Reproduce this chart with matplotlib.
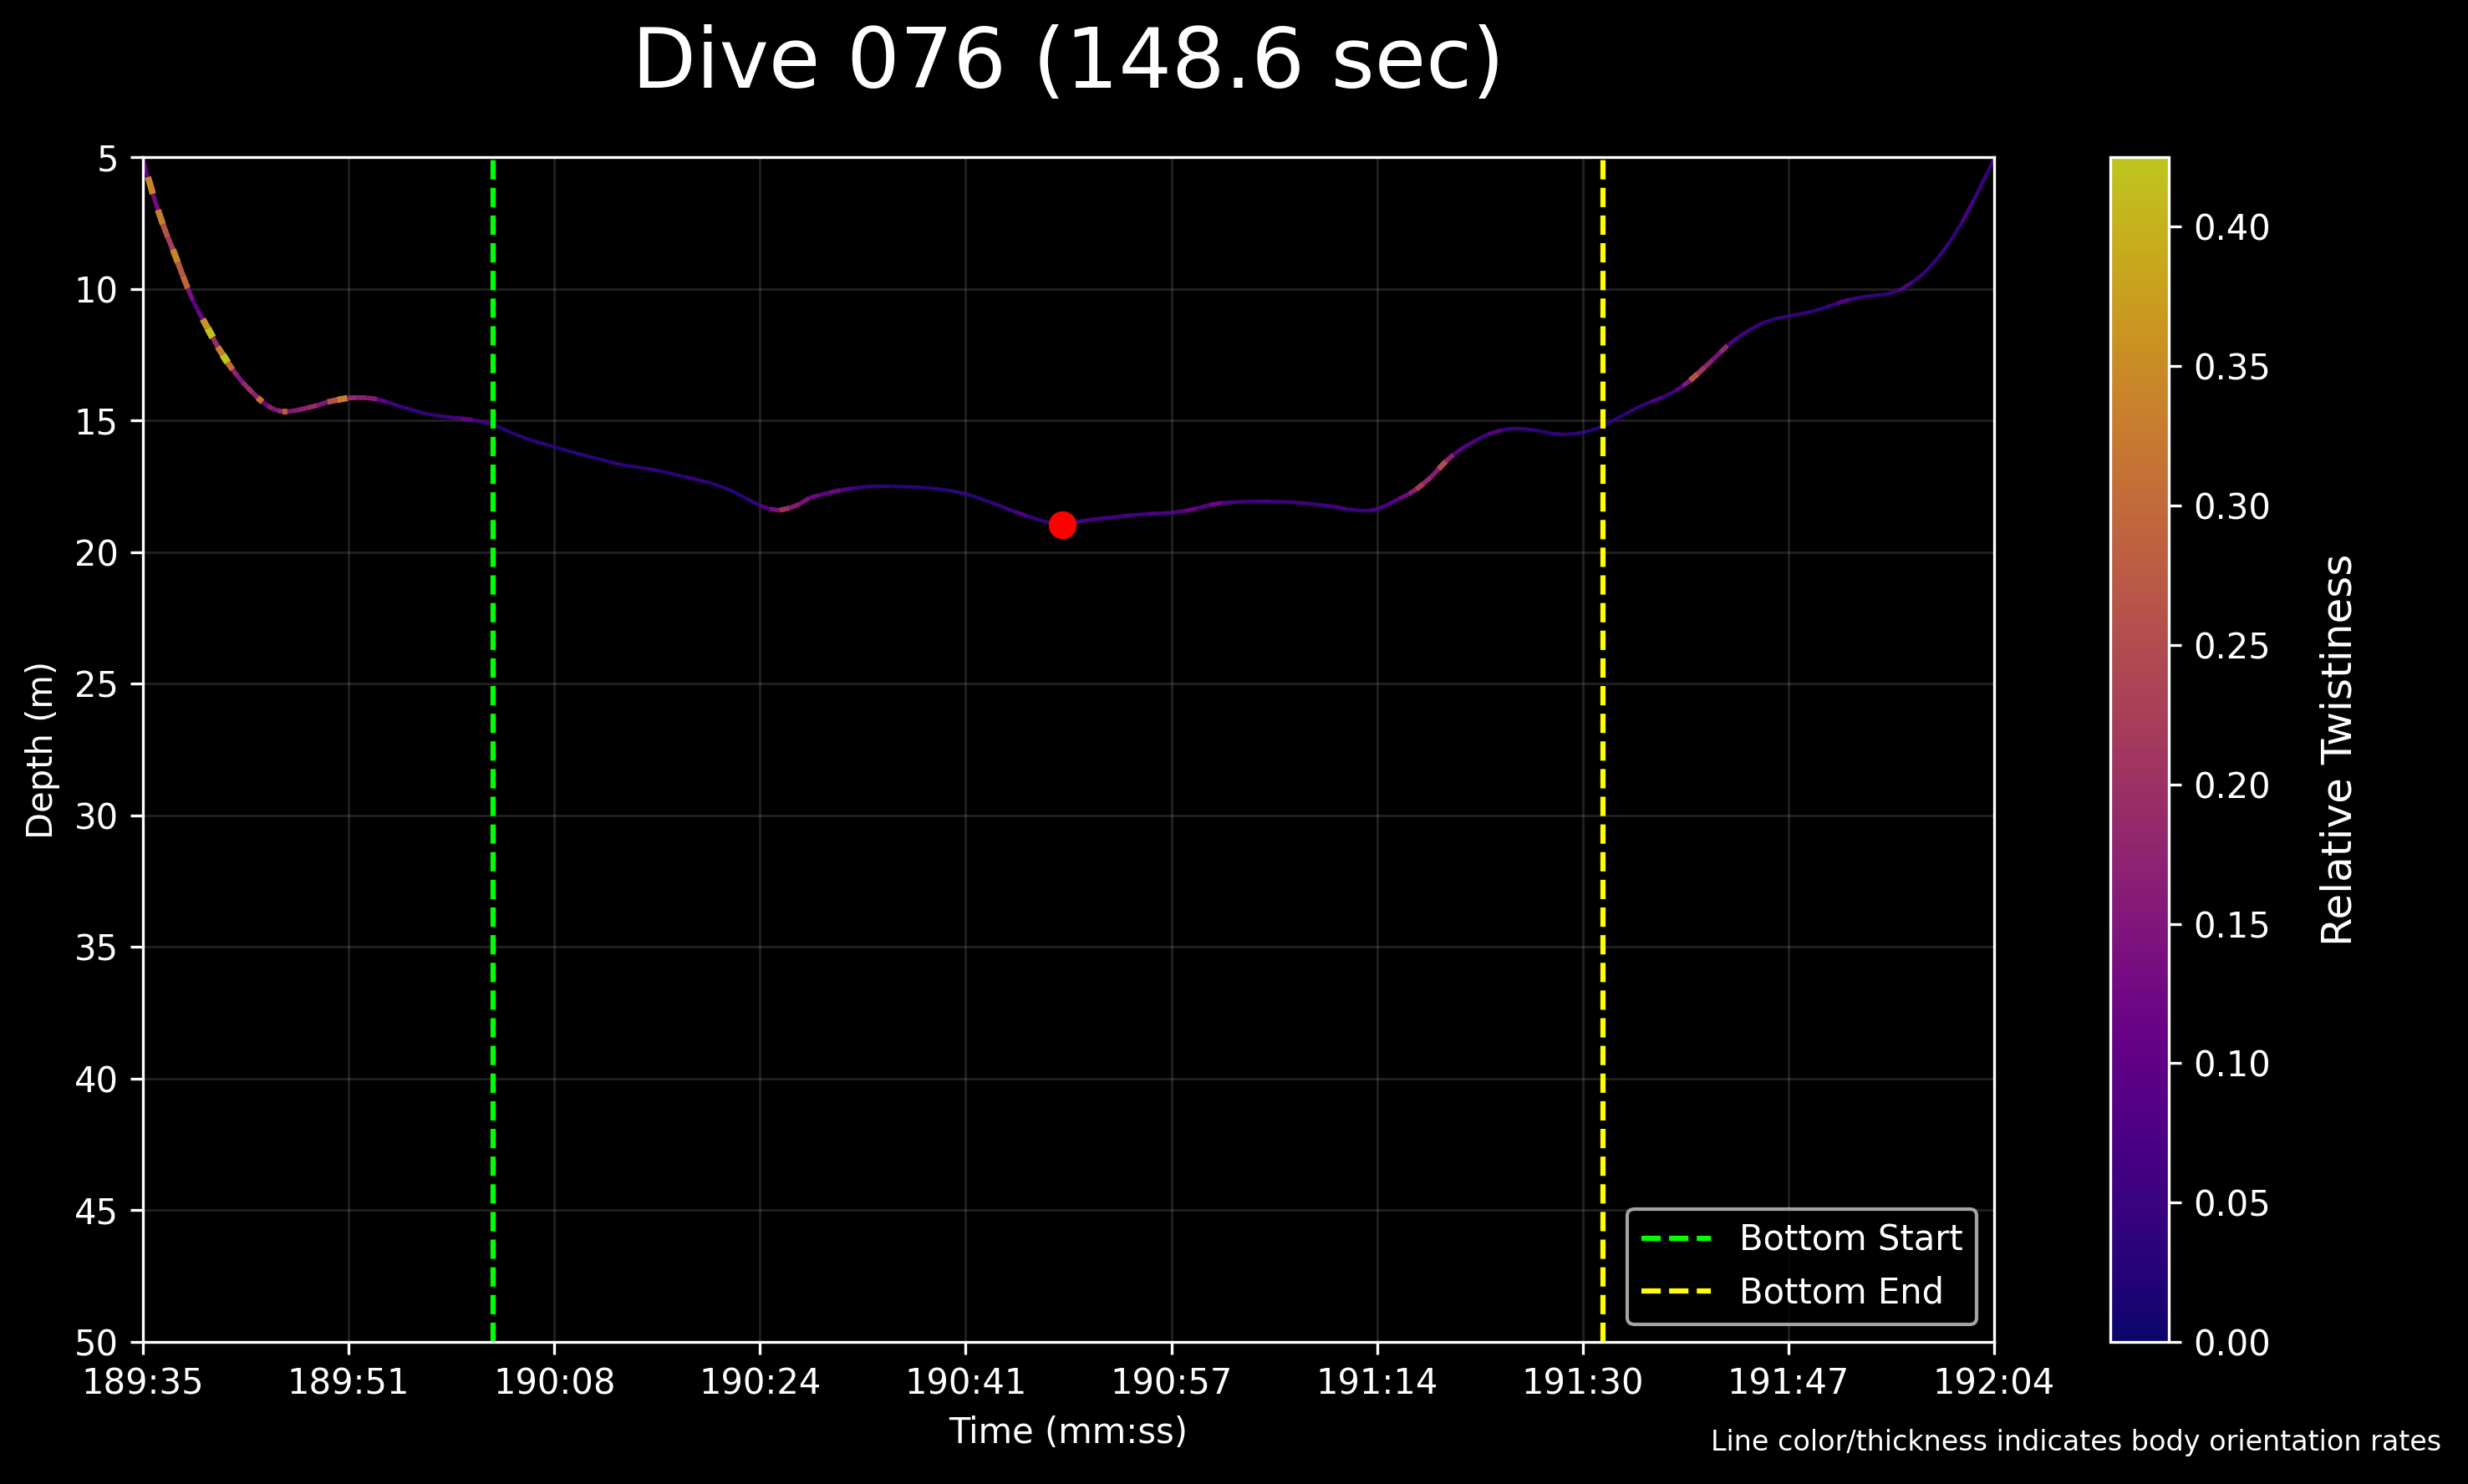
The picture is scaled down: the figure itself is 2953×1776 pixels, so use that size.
import matplotlib
matplotlib.use("Agg")
import matplotlib.pyplot as plt
from matplotlib.collections import LineCollection
from matplotlib.colors import Normalize
import numpy as np

# seconds since start of dive, depth (m), relative twistiness
time_s = [0.0, 0.4, 0.8, 1.2, 1.6, 2.0, 2.4, 2.8, 3.2, 3.6, 4.0, 4.4, 4.8, 5.2, 5.6,
          6.0, 6.4, 6.8, 7.2, 7.6, 8.0, 8.4, 8.8, 9.2, 9.6, 10.0, 10.4, 10.8, 11.2, 11.6,
          12.0, 12.4, 13.2, 14.0, 14.8, 15.6, 16.4, 17.2, 18.0, 18.8, 19.6, 20.4,
          21.5, 22.5, 23.5, 24.5, 25.5, 26.5, 27.5, 28.5, 29.5, 30.5, 31.5, 32.5,
          33.5, 34.5, 35.5, 36.5, 37.5, 38.5, 39.5, 40.5, 41.5, 42.5, 43.5, 44.5,
          45.5, 46.5, 47.5, 48.5, 49.5, 50.3, 51.1, 51.9, 52.7, 53.5, 54.3, 55.1,
          56.0, 57.0, 58.0, 59.0, 60.0, 61.0, 62.0, 63.0, 64.0, 65.0, 66.0, 67.0,
          68.0, 69.0, 70.0, 71.0, 72.0, 73.0, 73.8, 74.6, 75.6, 76.6, 77.6, 78.6,
          79.6, 80.6, 81.6, 82.6, 83.6, 84.6, 85.6, 86.6, 87.6, 88.6, 89.6, 90.6,
          91.6, 92.6, 93.6, 94.6, 95.6, 96.6, 97.6, 98.4, 99.2, 100.0, 100.8, 101.6,
          102.2, 102.8, 103.4, 104.0, 104.6, 105.2, 106.0, 107.0, 108.0, 109.0, 110.0,
          111.0, 112.0, 113.0, 114.0, 115.0, 116.0, 117.2, 118.0, 119.0, 120.0, 121.0,
          122.0, 123.0, 123.6, 124.2, 124.8, 125.4, 126.0, 126.6, 127.2, 128.0, 129.0,
          130.0, 131.0, 132.0, 133.0, 134.0, 135.0, 136.0, 137.0, 138.0, 139.0, 140.0,
          141.0, 142.0, 143.0, 144.0, 145.0, 146.0, 147.0, 148.0, 148.6]

depth_m = [5.05, 5.75, 6.40, 7.00, 7.55, 8.05, 8.50, 9.00, 9.50, 9.98, 10.43, 10.82, 11.15, 11.50, 11.85,
           12.20, 12.50, 12.80, 13.07, 13.32, 13.55, 13.75, 13.95, 14.13, 14.30, 14.44, 14.55, 14.62, 14.66, 14.67,
           14.64, 14.61, 14.52, 14.43, 14.30, 14.22, 14.15, 14.13, 14.14, 14.19, 14.30, 14.43,
           14.58, 14.72, 14.81, 14.87, 14.92, 14.98, 15.08, 15.24, 15.45, 15.64, 15.80, 15.93,
           16.07, 16.20, 16.33, 16.45, 16.58, 16.69, 16.76, 16.83, 16.92, 17.03, 17.14, 17.25,
           17.37, 17.52, 17.73, 17.98, 18.22, 18.36, 18.41, 18.33, 18.18, 17.94, 17.84, 17.74,
           17.65, 17.57, 17.52, 17.49, 17.49, 17.51, 17.53, 17.56, 17.61, 17.68, 17.78, 17.93,
           18.10, 18.28, 18.47, 18.63, 18.79, 18.90, 18.94, 18.89, 18.80, 18.74, 18.69, 18.64,
           18.59, 18.55, 18.53, 18.50, 18.44, 18.34, 18.21, 18.13, 18.10, 18.08, 18.08, 18.08,
           18.09, 18.12, 18.16, 18.21, 18.27, 18.36, 18.42, 18.43, 18.35, 18.18, 17.98, 17.80,
           17.62, 17.40, 17.15, 16.85, 16.55, 16.30, 16.03, 15.75, 15.52, 15.37, 15.30,
           15.32, 15.39, 15.49, 15.53, 15.50, 15.41, 15.22, 15.01, 14.75, 14.50, 14.30,
           14.12, 13.88, 13.70, 13.48, 13.23, 12.97, 12.70, 12.43, 12.15, 11.86, 11.55,
           11.30, 11.14, 11.04, 10.96, 10.86, 10.72, 10.55, 10.41, 10.31, 10.25, 10.20,
           10.06, 9.76, 9.40, 8.88, 8.25, 7.50, 6.60, 5.65, 5.05]

twistiness = [0.10, 0.34, 0.13, 0.33, 0.26, 0.22, 0.34, 0.27, 0.29, 0.14, 0.10, 0.12, 0.36, 0.42, 0.19,
              0.33, 0.42, 0.30, 0.17, 0.15, 0.18, 0.20, 0.17, 0.31, 0.12, 0.17, 0.15, 0.18, 0.28, 0.15,
              0.16, 0.17, 0.19, 0.15, 0.26, 0.33, 0.18, 0.17, 0.16, 0.10, 0.06, 0.05,
              0.04, 0.04, 0.05, 0.06, 0.10, 0.05, 0.04, 0.03, 0.03, 0.03, 0.04, 0.03,
              0.03, 0.04, 0.03, 0.03, 0.04, 0.03, 0.03, 0.04, 0.03, 0.03, 0.05, 0.04,
              0.03, 0.03, 0.03, 0.04, 0.08, 0.14, 0.20, 0.16, 0.14, 0.12, 0.10, 0.12,
              0.08, 0.05, 0.04, 0.04, 0.03, 0.03, 0.03, 0.03, 0.03, 0.04, 0.03, 0.03,
              0.04, 0.05, 0.08, 0.04, 0.04, 0.04, 0.05, 0.07, 0.06, 0.07, 0.06, 0.07,
              0.06, 0.08, 0.07, 0.08, 0.11, 0.09, 0.12, 0.08, 0.06, 0.05, 0.06, 0.05,
              0.05, 0.06, 0.05, 0.06, 0.07, 0.05, 0.05, 0.06, 0.07, 0.09, 0.12, 0.16,
              0.22, 0.18, 0.16, 0.25, 0.17, 0.10, 0.08, 0.06, 0.09, 0.05, 0.04,
              0.04, 0.03, 0.04, 0.03, 0.04, 0.03, 0.03, 0.03, 0.04, 0.04, 0.08,
              0.05, 0.09, 0.15, 0.26, 0.21, 0.17, 0.14, 0.18, 0.08, 0.06, 0.05,
              0.04, 0.04, 0.04, 0.04, 0.04, 0.05, 0.09, 0.05, 0.04, 0.04, 0.05,
              0.08, 0.05, 0.04, 0.05, 0.04, 0.07, 0.05, 0.04, 0.04]

dive_length = 148.6
bottom_start = 28.1
bottom_end = 117.2
max_depth_time = 73.8
max_depth = 18.95
twist_max = 0.425

tick_labels = ["189:35", "189:51", "190:08", "190:24", "190:41",
               "190:57", "191:14", "191:30", "191:47", "192:04"]

plt.style.use("dark_background")
fig = plt.figure(figsize=(2954 / 300, 1776 / 300), dpi=300)
ax = fig.add_axes([0.0579, 0.0957, 0.7498, 0.7984])
cax = fig.add_axes([0.8548, 0.0957, 0.0237, 0.7984])

t = np.array(time_s)
d = np.array(depth_m)
tw = np.array(twistiness)
points = np.column_stack([t, d]).reshape(-1, 1, 2)
segs = np.concatenate([points[:-1], points[1:]], axis=1)
norm = Normalize(vmin=0, vmax=twist_max)
lc = LineCollection(segs, cmap="plasma", norm=norm, linewidths=0.9 + 2.8 * tw[:-1], alpha=0.8)
lc.set_array(tw[:-1])
ax.add_collection(lc)

ax.axvline(bottom_start, color="lime", linestyle="--", linewidth=1.5, label="Bottom Start")
ax.axvline(bottom_end, color="yellow", linestyle="--", linewidth=1.5, label="Bottom End")
ax.plot(max_depth_time, max_depth, "o", color="red", markersize=7, zorder=5)

ax.set_xlim(0, dive_length)
ax.set_ylim(50, 5)
ax.set_yticks(np.arange(5, 51, 5))
ax.set_xticks(np.linspace(0, dive_length, len(tick_labels)))
ax.set_xticklabels(tick_labels)
ax.grid(True, color="gray", alpha=0.25, linewidth=0.7)
ax.set_xlabel("Time (mm:ss)", fontsize=10)
ax.set_ylabel("Depth (m)", fontsize=10)
ax.set_title("Dive 076 (148.6 sec)", fontsize=24, pad=20)
ax.legend(loc="lower right", fontsize=10)

cbar = fig.colorbar(lc, cax=cax)
cbar.set_label("Relative Twistiness", fontsize=12, labelpad=14)

fig.text(0.9888, 0.0225, "Line color/thickness indicates body orientation rates",
         ha="right", va="baseline", fontsize=8)

fig.savefig("out.png", dpi=300, facecolor="black")
